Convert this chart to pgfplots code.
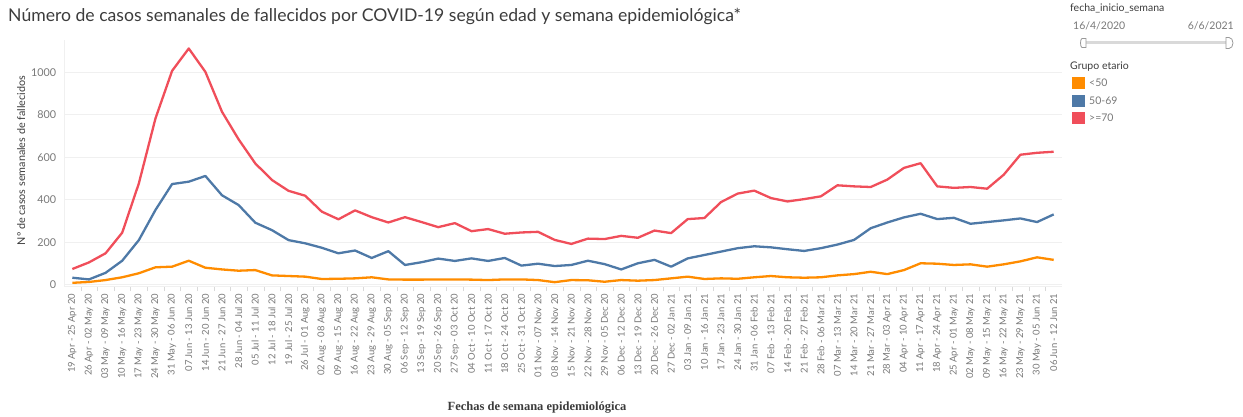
\documentclass[border=0pt]{standalone}
\usepackage{fontspec}
\setmainfont{Lato}
\newfontfamily\serifbold{Liberation Serif}
\usepackage{pgfplots}
\pgfplotsset{compat=1.18}
\usepackage{pgfplotstable}

\definecolor{gOrange}{RGB}{255,140,0}
\definecolor{gBlue}{RGB}{78,121,167}
\definecolor{gRed}{RGB}{240,78,90}
\definecolor{txtdark}{RGB}{60,60,60}
\definecolor{txtgray}{RGB}{120,120,120}
\definecolor{gridgray}{RGB}{240,240,240}

% semana (0 = 19 Apr - 25 Apr 20), <50, 50-69, >=70
\pgfplotstableread{
w  a    b    c
0  9    33   74
1  13   25   105
2  22   56   148
3  35   113  245
4  54   210  477
5  82   352  783
6  85   474  1007
7  113  485  1112
8  80   512  1002
9  72   421  814
10 66   375  684
11 69   292  571
12 44   257  493
13 41   210  442
14 38   195  419
15 27   174  344
16 28   148  308
17 30   161  350
18 35   126  318
19 25   158  293
20 24   93   318
21 24   106  295
22 25   123  271
23 25   112  290
24 24   124  252
25 22   112  262
26 25   126  240
27 25   90   246
28 22   99   249
29 12   88   211
30 22   93   192
31 21   113  217
32 14   97   215
33 22   72   230
34 19   101  221
35 22   117  255
36 30   85   243
37 38   124  309
38 27   140  314
39 30   156  389
40 28   172  429
41 35   181  443
42 41   176  408
43 35   167  392
44 33   159  403
45 35   172  416
46 44   189  468
47 50   211  463
48 61   266  460
49 50   293  495
50 69   317  550
51 101  334  572
52 99   309  463
53 93   315  456
54 96   287  460
55 85   295  452
56 96   303  518
57 110  312  612
58 129  295  621
59 117  331  626
}\fallecidos

\begin{document}
\begin{tikzpicture}[x=1pt,y=1pt]
\useasboundingbox (0,0) rectangle (1243,416);

\node[anchor=west,inner sep=0,text=txtdark,font=\fontsize{17.6}{20}\selectfont] at (8,400)
  {Número de casos semanales de fallecidos por COVID-19 según edad y semana epidemiológica*};

\begin{axis}[
  at={(64pt,130pt)}, anchor=south west,
  scale only axis, width=998pt, height=246pt,
  xmin=-0.5, xmax=59.5, ymin=-6, ymax=1152,
  axis lines*=left,
  axis line style={draw=gridgray, line width=0.6pt},
  ytick={0,200,400,600,800,1000},
  ymajorgrids, grid style={gridgray, line width=0.6pt},
  major y tick style={draw=none},
  xtick={0,...,59},
  major x tick style={draw=none},
  minor xtick={0.5,1.5,...,58.5},
  minor x tick style={draw=gridgray!80!gray},
  minor tick length=5pt, tick align=outside,
  /pgf/number format/assume math mode=true,
  /pgf/number format/set thousands separator={},
  yticklabel style={font=\fontsize{10.8}{12}\selectfont, text=txtgray},
  xticklabel style={font=\fontsize{9.5}{10}\selectfont, text=txtgray, rotate=90, anchor=east},
  xticklabels={
    19 Apr - 25 Apr 20, 26 Apr - 02 May 20, 03 May - 09 May 20, 10 May - 16 May 20,
    17 May - 23 May 20, 24 May - 30 May 20, 31 May - 06 Jun 20, 07 Jun - 13 Jun 20,
    14 Jun - 20 Jun 20, 21 Jun - 27 Jun 20, 28 Jun - 04 Jul 20, 05 Jul - 11 Jul 20,
    12 Jul - 18 Jul 20, 19 Jul - 25 Jul 20, 26 Jul - 01 Aug 20, 02 Aug - 08 Aug 20,
    09 Aug - 15 Aug 20, 16 Aug - 22 Aug 20, 23 Aug - 29 Aug 20, 30 Aug - 05 Sep 20,
    06 Sep - 12 Sep 20, 13 Sep - 19 Sep 20, 20 Sep - 26 Sep 20, 27 Sep - 03 Oct 20,
    04 Oct - 10 Oct 20, 11 Oct - 17 Oct 20, 18 Oct - 24 Oct 20, 25 Oct - 31 Oct 20,
    01 Nov - 07 Nov 20, 08 Nov - 14 Nov 20, 15 Nov - 21 Nov 20, 22 Nov - 28 Nov 20,
    29 Nov - 05 Dec 20, 06 Dec - 12 Dec 20, 13 Dec - 19 Dec 20, 20 Dec - 26 Dec 20,
    27 Dec - 02 Jan 21, 03 Jan - 09 Jan 21, 10 Jan - 16 Jan 21, 17 Jan - 23 Jan 21,
    24 Jan - 30 Jan 21, 31 Jan - 06 Feb 21, 07 Feb - 13 Feb 21, 14 Feb - 20 Feb 21,
    21 Feb - 27 Feb 21, 28 Feb - 06 Mar 21, 07 Mar - 13 Mar 21, 14 Mar - 20 Mar 21,
    21 Mar - 27 Mar 21, 28 Mar - 03 Apr 21, 04 Apr - 10 Apr 21, 11 Apr - 17 Apr 21,
    18 Apr - 24 Apr 21, 25 Apr - 01 May 21, 02 May - 08 May 21, 09 May - 15 May 21,
    16 May - 22 May 21, 23 May - 29 May 21, 30 May - 05 Jun 21, 06 Jun - 12 Jun 21},
  ylabel={Nº de casos semanales de fallecidos},
  ylabel style={at={(axis description cs:-0.043,0.51)}, anchor=center,
    font=\fontsize{10.8}{12}\selectfont, text=txtdark},
  xlabel={Fechas de semana epidemiológica},
  xlabel style={at={(axis description cs:0.474,-0.496)}, anchor=center,
    font=\serifbold\bfseries\fontsize{12.5}{14}\selectfont, text=txtdark},
  clip=false,
]
\addplot[gOrange, line width=2.3pt, line join=round] table[x=w,y=a] {\fallecidos};
\addplot[gBlue,   line width=2.3pt, line join=round] table[x=w,y=b] {\fallecidos};
\addplot[gRed,    line width=2.3pt, line join=round] table[x=w,y=c] {\fallecidos};
\end{axis}

% filtro y leyenda (panel derecho)
\begin{scope}[font=\fontsize{10.5}{12}\selectfont]
\node[anchor=west,inner sep=0,text=txtdark] at (1070,408) {fecha\_inicio\_semana};
\node[anchor=west,inner sep=0,text=txtgray] at (1073,390) {16/4/2020};
\node[anchor=east,inner sep=0,text=txtgray] at (1234,390) {6/6/2021};
\draw[line width=3pt,gray!30] (1084,373) -- (1228,373);
\draw[gray!80,fill=white,line width=0.8pt] (1086,377.5) -- (1082,377.5) arc (90:270:1.5 and 4.5) -- (1086,368.5) -- cycle;
\draw[gray!80,fill=white,line width=0.8pt] (1226,378.5) -- (1229,378.5) arc (90:-90:4 and 5.5) -- (1226,367.5) -- cycle;
\node[anchor=west,inner sep=0,text=txtdark] at (1070,349) {Grupo etario};
\fill[gOrange] (1072,327) rectangle (1085,339);
\fill[gBlue]   (1072,309) rectangle (1085,321);
\fill[gRed]    (1072,292) rectangle (1085,304);
\node[anchor=west,inner sep=0,text=txtgray] at (1089,333) {<50};
\node[anchor=west,inner sep=0,text=txtgray] at (1089,315) {50-69};
\node[anchor=west,inner sep=0,text=txtgray] at (1089,298) {>=70};
\end{scope}
\end{tikzpicture}
\end{document}
